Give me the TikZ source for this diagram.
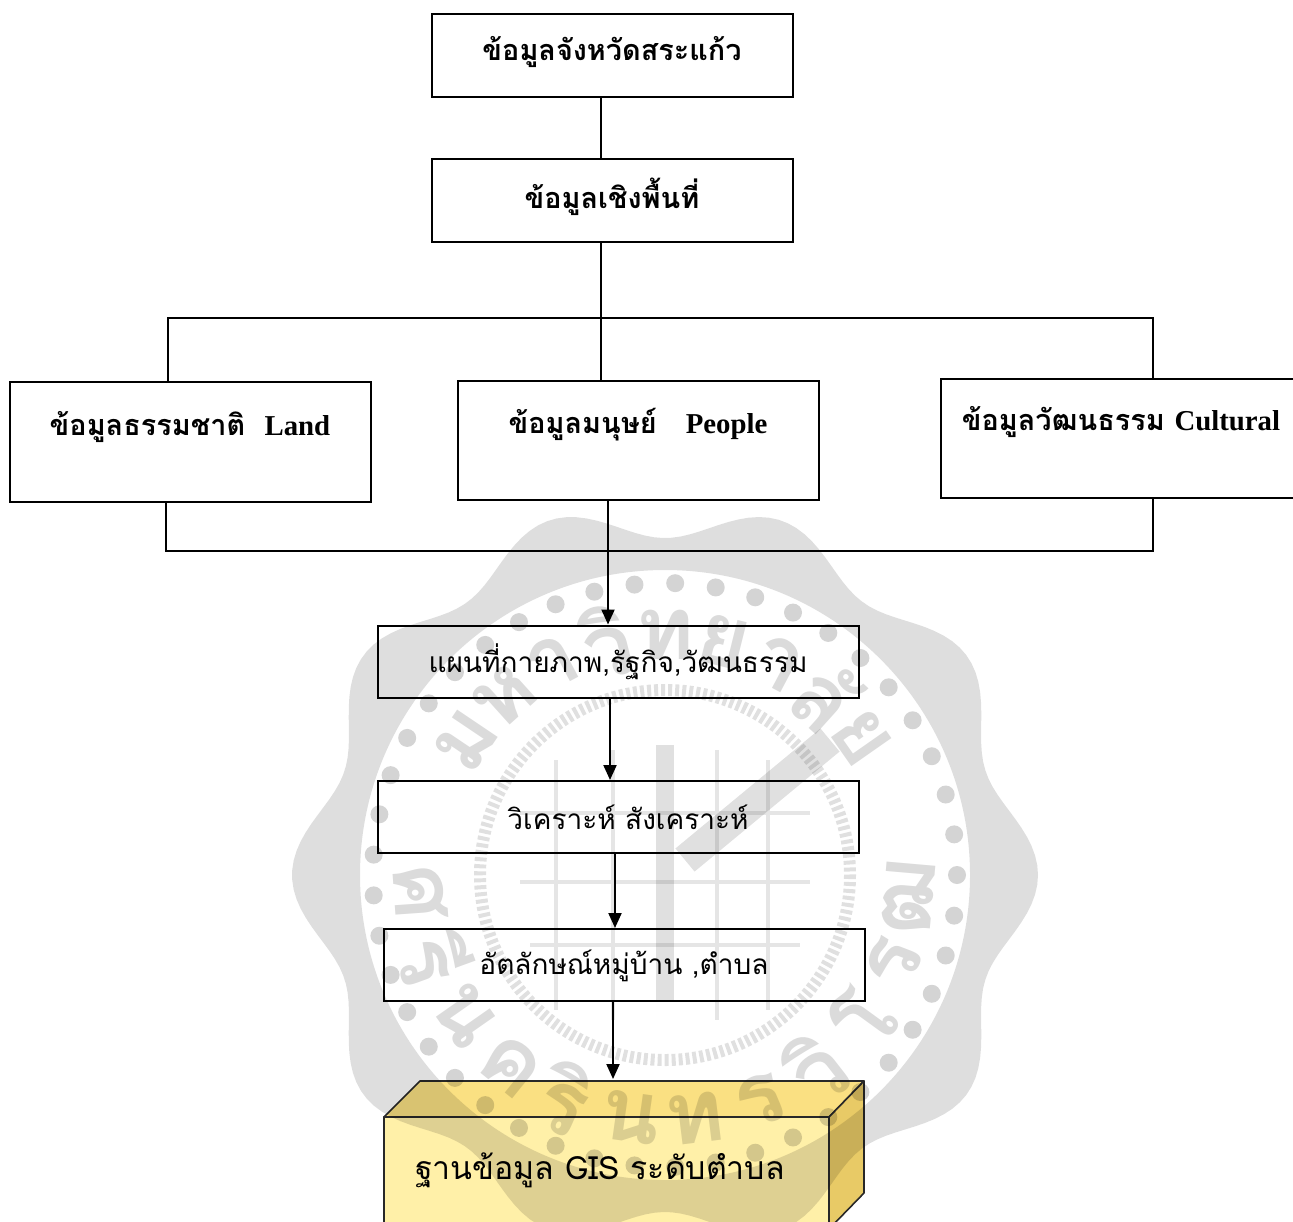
\documentclass[tikz,border=0pt]{standalone}
\usepackage{fontspec}
\setmainfont{Liberation Serif}
\newfontfamily\thaifont[Script=Thai]{Loma}
\usetikzlibrary{arrows.meta}

\tikzset{
  databox/.style={draw, line width=1.2pt, inner sep=0pt, minimum width=180.5pt},
  flowbox/.style={draw, line width=1pt, inner sep=0pt, minimum width=240.5pt, minimum height=36pt},
  headtxt/.style={inner sep=0.75pt, font=\thaifont\bfseries\fontsize{14.4}{17}\selectfont},
  steptxt/.style={inner sep=0.75pt, font=\thaifont\fontsize{14}{17}\selectfont},
  gistxt/.style={inner sep=0.75pt, font=\thaifont\fontsize{16}{19}\selectfont},
  link/.style={line width=1pt},
  flowarrow/.style={line width=1pt, -{Triangle[length=7.5pt,width=6.5pt]}},
  cubeline/.style={draw={rgb, 255:red, 40; green, 40; blue, 40}, line width=0.8pt, line join=round},
  seal/.style={fill=black, fill opacity=0.13, draw=none},
  sealtxt/.style={inner sep=0pt, text opacity=0.14, font=\thaifont\bfseries\fontsize{44}{44}\selectfont},
}

\begin{document}
\begin{tikzpicture}[x=0.5pt,y=0.5pt,yscale=-1]
    \useasboundingbox (0,0) rectangle (1293,1221);

    %Shape: Rectangle
    \node[databox, minimum height=41.5pt] (prov) at (612.5,55.5) {};
    %Shape: Rectangle
    \node[databox, minimum height=41.5pt] (spatial) at (612.5,200.5) {};
    %Shape: Rectangle
    \node[databox, minimum height=60pt] (land) at (190.5,442) {};
    %Shape: Rectangle
    \node[databox, minimum height=59.5pt] (people) at (638.5,440.5) {};
    %Shape: Rectangle
    \node[databox, minimum height=59.5pt] (culture) at (1121.5,438.5) {};
    %Shape: Rectangle
    \node[flowbox] (mapbox) at (618.5,661.5) {};
    %Shape: Rectangle
    \node[flowbox] (analysis) at (618.5,817) {};
    %Shape: Rectangle
    \node[flowbox] (identity) at (624.5,965) {};

    %Shape: Cube
    \fill[color={rgb, 255:red, 255; green, 240; blue, 168 }] (384,1117) rectangle (829,1240);
    \draw[cubeline, fill={rgb, 255:red, 250; green, 224; blue, 130 }] (384,1117) -- (420,1081) -- (864,1081) -- (829,1117) -- cycle;
    \draw[cubeline, fill={rgb, 255:red, 232; green, 202; blue, 102 }] (829,1117) -- (864,1081) -- (864,1193) -- (829,1229) -- cycle;
    \draw[cubeline] (384,1240) -- (384,1117) -- (829,1117) -- (829,1240);
    \coordinate (gistop) at (613,1079);

    %Straight Lines
    \coordinate (bustop) at (601,318);
    \coordinate (busleft) at (168,318);
    \coordinate (busright) at (1153,318);
    \coordinate (busbotleft) at (166,551);
    \coordinate (busbotright) at (1153,551);
    \coordinate (flowline) at (608,551);
    \draw[link] (prov.south -| bustop) -- (spatial.north -| bustop);
    \draw[link] (spatial.south -| bustop) -- (people.north -| bustop);
    \draw[link] (land.north -| busleft) -- (busleft) -- (busright) -- (culture.north -| busright);
    \draw[link] (land.south -| busbotleft) -- (busbotleft) -- (busbotright) -- (culture.south -| busbotright);
    %Straight Lines
    \draw[flowarrow] (people.south -| flowline) -- (mapbox.north -| flowline);
    \draw[flowarrow] ([xshift=-4.25pt]mapbox.south) -- ([xshift=-4.25pt]analysis.north);
    \draw[flowarrow] ([xshift=-1.75pt]analysis.south) -- ([xshift=-4.75pt]identity.north);
    \draw[flowarrow] ([xshift=-5.75pt]identity.south) -- (gistop);

    % Text Node
    \node[headtxt] (provtxt) at (612,52) {ข้อมูลจังหวัดสระแก้ว};
    % Text Node
    \node[headtxt] (spatialtxt) at (612,197) {ข้อมูลเชิงพื้นที่};
    % Text Node
    \node[headtxt] (landtxt) at (190,427) {ข้อมูลธรรมชาติ\ \ {\rmfamily\bfseries Land}};
    % Text Node
    \node[headtxt] (peopletxt) at (638,425) {ข้อมูลมนุษย์\ \ \ {\rmfamily\bfseries People}};
    % Text Node
    \node[headtxt] (culturetxt) at (1121,422) {ข้อมูลวัฒนธรรม {\rmfamily\bfseries Cultural}};
    % Text Node
    \node[steptxt] (maptxt) at (618,662) {แผนที่กายภาพ,รัฐกิจ,วัฒนธรรม};
    % Text Node
    \node[steptxt] (analysistxt) at (628,817) {วิเคราะห์ สังเคราะห์};
    % Text Node
    \node[steptxt] (identitytxt) at (624,966) {อัตลักษณ์หมู่บ้าน ,ตำบล};
    % Text Node
    \node[gistxt] (gisbase) at (600,1170) {ฐานข้อมูล GIS ระดับตำบล};

    % Watermark seal
    \coordinate (sealc) at (665,875);
    \fill[seal, even odd rule] plot[domain=0:360, samples=240] ({665+(355+18*cos(10*\x))*cos(\x)},{875+(355+18*cos(10*\x))*sin(\x)}) -- cycle (sealc) circle (305);
    \foreach \a in {0,8,...,352}
      \fill[seal, fill opacity=0.17] ({665+292*cos(\a)},{875+292*sin(\a)}) circle (9);
    \draw[black, draw opacity=0.12, line width=6pt, dash pattern=on 2pt off 1.5pt] (sealc) circle (185);
    \foreach \p/\c in {146/ม, 132/ห, 118/า, 104/วิ, 90/ท, 76/ย, 62/า, 48/ลั, 35/ย}
      \node[sealtxt, rotate=\p-90] at ({665+240*cos(\p)},{875-240*sin(\p)}) {\c};
    \foreach \p/\c in {184/ศ, 200/รี, 215/น, 231/ค, 246/ริ, 262/น, 277/ท, 293/ร, 308/วิ, 324/โ, 339/ร, 355/ฒ}
      \node[sealtxt, rotate=\p+90] at ({665+245*cos(\p)},{875-245*sin(\p)}) {\c};
    \draw[black, draw opacity=0.12, line width=9pt] (665,745) -- (665,1000);
    \draw[black, draw opacity=0.12, line width=15pt] (685,860) -- (830,740);
    \draw[black, draw opacity=0.1, line width=2pt] (556,760) -- (556,1010) (613,750) -- (613,1020) (717,750) -- (717,1020) (768,760) -- (768,1010) (520,813) -- (810,813) (520,882) -- (810,882) (530,945) -- (800,945);
\end{tikzpicture}
\end{document}
